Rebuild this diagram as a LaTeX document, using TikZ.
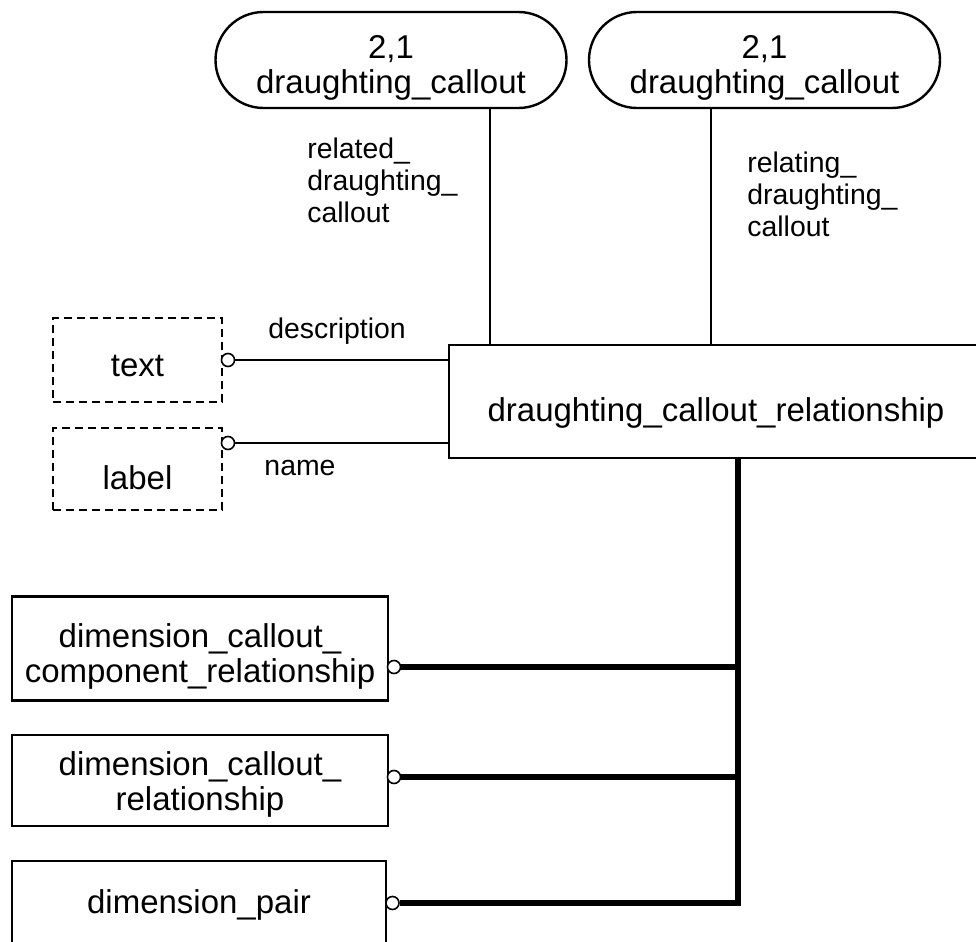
\documentclass[tikz,border=0pt]{standalone}
\usepackage{fontspec}
\setmainfont{Liberation Sans}
\usepackage{tikz}

\newcommand{\bigtxt}{\fontsize{16.5}{17.5}\selectfont}
\newcommand{\smalltxt}{\fontsize{14.2}{16}\selectfont}

\tikzset{
    ent/.style={draw, line width=1.2pt, inner sep=0pt},
    enttxt/.style={inner sep=0pt, align=center, font=\bigtxt},
    callbox/.style={ent, rounded corners=24pt, minimum width=175.5pt, minimum height=48pt},
    typebox/.style={ent, dash pattern=on 4pt off 2.5pt, minimum width=84.5pt},
    attrlabel/.style={inner sep=0pt, font=\smalltxt, align=left},
    ringnode/.style={circle, draw, line width=0.8pt, fill=white, inner sep=0pt, minimum size=6.5pt},
    relline/.style={line width=1pt},
    subline/.style={line width=3pt}
}

\begin{document}
\begin{tikzpicture}[x=0.5pt, y=-0.5pt]
    \useasboundingbox (0,0) rectangle (976,942);
    \clip (0,0) rectangle (976,942);

    % Entities
    \node[callbox] (callA) at (391,60) {};
    \node[enttxt] (callAtxt) at (391,68) {2,1\\draughting\_callout};
    \node[callbox] (callB) at (764.5,60) {};
    \node[enttxt] (callBtxt) at (764.5,68) {2,1\\draughting\_callout};
    \node[ent, minimum width=267pt, minimum height=56.5pt] (dcrel) at (716,401.5) {};
    \node[enttxt, anchor=base] (dcreltxt) at (716,421) {draughting\_callout\_relationship};

    % Types
    \node[typebox, minimum height=42pt] (text) at (137.5,360) {};
    \node[enttxt, anchor=base] (texttxt) at (137.5,376) {text};
    \node[typebox, minimum height=41pt] (label) at (137.5,469) {};
    \node[enttxt, anchor=base] (labeltxt) at (137.5,489) {label};

    % Subtypes
    \node[ent, minimum width=188pt, minimum height=52pt] (dccr) at (200,648.5) {};
    \node[enttxt] (dccrtxt) at (200,656) {dimension\_callout\_\\component\_relationship};
    \node[ent, minimum width=188pt, minimum height=45.5pt] (dcr) at (200,780.5) {};
    \node[enttxt] (dcrtxt) at (200,784) {dimension\_callout\_\\relationship};
    \node[ent, minimum width=187pt, minimum height=42pt] (dp) at (199,903) {};
    \node[enttxt, anchor=base] (dptxt) at (199,913) {dimension\_pair};

    % Related and relating callouts
    \coordinate (relA) at (490,345);
    \coordinate (relB) at (711,345);
    \draw[relline] (relA |- callA.south) -- (relA);
    \draw[relline] (relB |- callB.south) -- (relB);
    \node[attrlabel, anchor=north west] (relatedlbl) at (307,138) {related\_\\draughting\_\\callout};
    \node[attrlabel, anchor=north west] (relatinglbl) at (747,152) {relating\_\\draughting\_\\callout};

    % Attributes
    \node[ringnode] (textring) at (228,360) {};
    \node[ringnode] (labelring) at (228,443) {};
    \draw[relline] (textring.east) -- (textring -| dcrel.west);
    \draw[relline] (labelring.east) -- (labelring -| dcrel.west);
    \node[attrlabel, anchor=base] (descrlbl) at (337,338) {description};
    \node[attrlabel, anchor=base] (namelbl) at (300,475) {name};

    % Subtype tree
    \coordinate (bus) at (738,903);
    \node[ringnode] (dccrring) at (394,667) {};
    \node[ringnode] (dcrring) at (394,777) {};
    \node[ringnode] (dpring) at (392.5,903) {};
    \draw[subline] (dcrel.south -| bus) -- (bus) -- (dpring.east);
    \draw[subline] (dccrring.east) -- (dccrring -| bus);
    \draw[subline] (dcrring.east) -- (dcrring -| bus);
\end{tikzpicture}
\end{document}
